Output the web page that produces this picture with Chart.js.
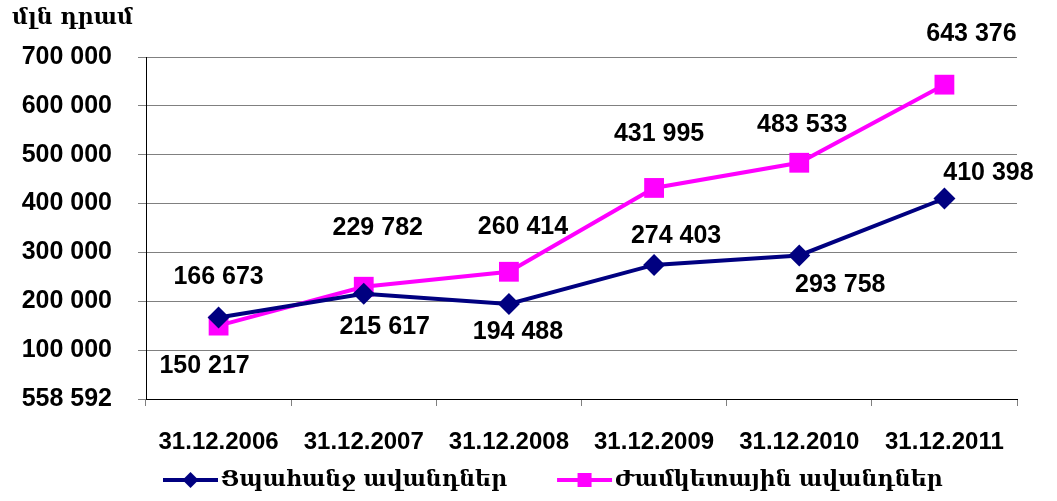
<!DOCTYPE html>
<html>
<head>
<meta charset="utf-8">
<script src="https://cdn.jsdelivr.net/npm/chart.js@4.4.1/dist/chart.umd.min.js"></script>
<style>
  body { margin: 0; background: #fff; }
  #wrap { width: 1057px; height: 501px; }
</style>
</head>
<body>
<div id="wrap"><canvas id="chart" width="1057" height="501"></canvas></div>
<script>
const categories = ["31.12.2006", "31.12.2007", "31.12.2008", "31.12.2009", "31.12.2010", "31.12.2011"];
const demandDeposits = [166673, 215617, 194488, 274403, 293758, 410398];
const timeDeposits = [150217, 229782, 260414, 431995, 483533, 643376];
const seriesNames = ["Ցպահանջ ավանդներ", "Ժամկետային ավանդներ"];
const yTickLabels = ["558 592", "100 000", "200 000", "300 000", "400 000", "500 000", "600 000", "700 000"];
const unitLabel = "մլն դրամ";

const navy = "#000080";
const magenta = "#FF00FF";
const numFont = "bold 25px 'Liberation Sans', Arial, sans-serif";
const armFont = "bold 22px 'DejaVu Serif', 'DejaVu Sans', serif";

// where each value label sits relative to its point (dx, dy of text centre)
const labelShift = [
    [[0, -40], [21, 33], [9, 28], [22, -29], [41, 30], [44, -25]],
    [[-14, 41], [14, -59], [14, -45], [5, -54], [3, -38], [27, -51]]
];

function fmt(v){
    return String(v).replace(/\B(?=(\d{3})+(?!\d))/g, " ");
}

const valueLabels = {
    id: 'valueLabels',
    afterDatasetsDraw(chart){
        const ctx = chart.ctx;
        ctx.save();
        ctx.font = numFont;
        ctx.fillStyle = "#000";
        ctx.textAlign = "center";
        ctx.textBaseline = "middle";
        chart.data.datasets.forEach((ds, i) => {
            chart.getDatasetMeta(i).data.forEach((pt, j) => {
                const s = labelShift[i][j];
                ctx.fillText(fmt(ds.data[j]), pt.x + s[0], pt.y + s[1]);
            });
        });
        ctx.restore();
    }
};

const extras = {
    id: 'extras',
    afterDraw(chart){
        const ctx = chart.ctx;
        const area = chart.chartArea;
        ctx.save();
        // unit caption
        ctx.font = armFont;
        ctx.fillStyle = "#000";
        ctx.textBaseline = "middle";
        ctx.textAlign = "left";
        ctx.fillText(unitLabel, 12, 18);

        // legend: line + marker + text
        let x = area.left + 17;
        const y = 480;
        chart.data.datasets.forEach((ds, i) => {
            ctx.strokeStyle = ds.borderColor;
            ctx.lineWidth = 4;
            ctx.beginPath();
            ctx.moveTo(x, y);
            ctx.lineTo(x + 55, y);
            ctx.stroke();
            ctx.fillStyle = ds.borderColor;
            if (ds.pointStyle == 'rectRot'){
                ctx.beginPath();
                ctx.moveTo(x + 27.5, y - 8);
                ctx.lineTo(x + 35.5, y);
                ctx.lineTo(x + 27.5, y + 8);
                ctx.lineTo(x + 19.5, y);
                ctx.closePath();
                ctx.fill();
            } else {
                ctx.fillRect(x + 20.5, y - 7, 14, 14);
            }
            ctx.fillStyle = "#000";
            ctx.font = armFont;
            ctx.fillText(ds.label, x + 58, y);
            x += 58 + ctx.measureText(ds.label).width + 50;
        });
        ctx.restore();
    }
};

new Chart(document.getElementById('chart'), {
    type: 'line',
    data: {
        labels: categories,
        datasets: [
            {
                label: seriesNames[0],
                data: demandDeposits,
                borderColor: navy,
                backgroundColor: navy,
                borderWidth: 4,
                pointStyle: 'rectRot',
                pointRadius: 11,
                pointBorderWidth: 0,
                tension: 0
            },
            {
                label: seriesNames[1],
                data: timeDeposits,
                borderColor: magenta,
                backgroundColor: magenta,
                borderWidth: 4,
                pointStyle: 'rect',
                pointRadius: 14,
                pointBorderWidth: 0,
                tension: 0
            }
        ]
    },
    options: {
        responsive: false,
        animation: false,
        layout: { padding: { top: 57, right: 40, left: 0, bottom: 0 } },
        plugins: {
            legend: { display: false },
            tooltip: { enabled: false }
        },
        scales: {
            x: {
                offset: true,
                afterFit: s => { s.height = 102; },
                grid: {
                    offset: true,
                    drawOnChartArea: false,
                    tickLength: 7,
                    color: "#808080"
                },
                border: { color: "#000", width: 1 },
                ticks: {
                    color: "#000",
                    padding: 22,
                    maxRotation: 0,
                    font: { family: "'Liberation Sans', Arial, sans-serif", size: 24, weight: 'bold' }
                }
            },
            y: {
                min: 0,
                max: 700000,
                afterFit: s => { s.width = 146; },
                grid: {
                    color: "#808080",
                    tickLength: 8
                },
                border: { color: "#000", width: 1 },
                ticks: {
                    stepSize: 100000,
                    color: "#000",
                    padding: 26,
                    font: { family: "'Liberation Sans', Arial, sans-serif", size: 25, weight: 'bold' },
                    callback: (v, i) => yTickLabels[i]
                }
            }
        }
    },
    plugins: [valueLabels, extras]
});
</script>
</body>
</html>
